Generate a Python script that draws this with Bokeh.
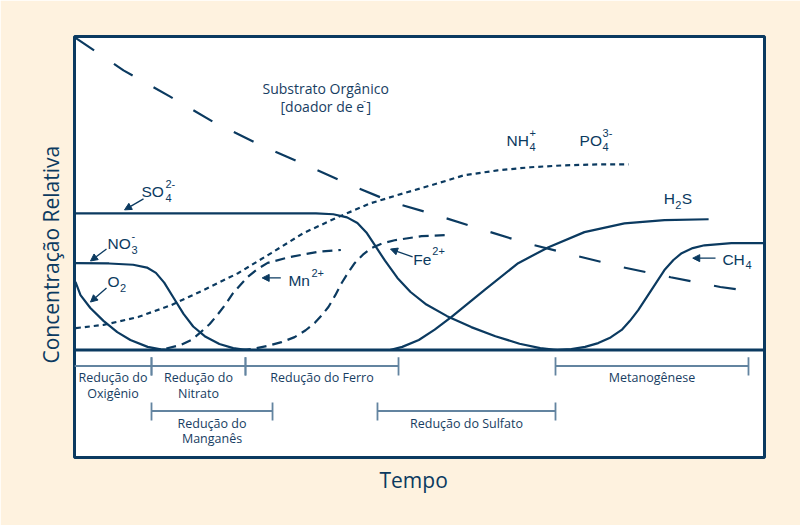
from bokeh.plotting import figure
from bokeh.models import Range1d, Span, Arrow, NormalHead, Title, ColumnDataSource
from bokeh.core.properties import value
from bokeh.embed import file_html
from bokeh.resources import INLINE

# ---------------- data (Tempo 0-100, Concentração relativa 0-100) ----------------
org_t = [0.2, 7.1, 13.8, 20.0, 26.4, 32.9, 39.4, 46.1, 51.6, 58.4, 65.4, 72.3, 79.4, 86.4, 93.6, 97.7]
org_c = [99.5, 89.2, 80.9, 72.9, 65.9, 59.6, 53.2, 47.1, 43.6, 38.9, 34.1, 30.3, 26.4, 23.2, 20.1, 18.8]

so4_t = [0.14, 35.0, 37.5, 39.5, 41.0, 42.3, 43.5, 45.0, 46.8, 48.7, 51.0, 54.0, 57.5, 61.0, 64.5, 67.5, 70.0]
so4_c = [43.6, 43.6, 43.3, 42.3, 40.5, 37.5, 33.5, 28.5, 23.0, 18.5, 14.5, 10.8, 7.3, 4.4, 2.0, 0.6, 0.0]

no3_t = [0.14, 5.0, 8.5, 10.5, 11.8, 13.0, 14.4, 15.8, 17.2, 19.0, 21.0, 23.0, 25.0]
no3_c = [27.7, 27.6, 27.2, 26.3, 24.6, 21.5, 16.5, 11.5, 7.5, 4.2, 1.9, 0.6, 0.0]

o2_t = [0.14, 0.87, 2.3, 4.2, 6.2, 8.1, 10.6, 12.5, 13.9]
o2_c = [21.7, 17.5, 13.4, 9.3, 5.7, 3.2, 1.0, 0.2, 0.0]

nh4_t = [0.2, 4.2, 9.2, 14.0, 18.7, 23.7, 28.5, 33.2, 38.2, 42.9, 47.7, 52.7, 56.4, 61.3, 66.1, 70.9, 75.8, 80.3]
nh4_c = [7.0, 8.0, 10.5, 14.3, 19.1, 24.5, 30.9, 37.3, 42.4, 46.8, 50.0, 53.2, 55.7, 57.3, 58.3, 58.9, 59.2, 59.2]

mn_t = [11.0, 13.0, 15.4, 17.0, 18.3, 19.6, 20.7, 21.9, 23.0, 24.1, 25.1, 26.5, 28.0, 31.3, 35.2, 38.6]
mn_c = [0.0, 0.3, 1.6, 3.3, 5.7, 8.3, 11.2, 14.6, 18.2, 20.9, 23.3, 25.8, 27.8, 29.7, 31.3, 31.9]

fe_t = [24.1, 26.0, 28.0, 30.0, 31.9, 33.5, 34.8, 35.8, 36.8, 37.8, 38.7, 39.6, 40.6, 41.8, 43.0, 44.6, 46.4, 50.3, 54.5]
fe_c = [0.0, 0.4, 1.3, 2.5, 4.1, 6.3, 8.6, 11.0, 13.7, 17.5, 21.3, 24.5, 27.7, 30.4, 32.5, 34.0, 35.0, 36.3, 36.7]

h2s_t = [45.7, 47.5, 49.9, 52.2, 54.6, 59.4, 64.3, 68.7, 73.9, 79.7, 85.5, 91.9]
h2s_c = [0.0, 1.0, 3.2, 6.5, 10.5, 19.1, 27.7, 32.8, 37.6, 40.4, 41.4, 41.7]

ch4_t = [69.4, 72.0, 74.0, 75.9, 77.7, 79.3, 80.5, 81.7, 83.6, 85.5, 86.8, 88.0, 89.6, 91.3, 95.2, 100.0]
ch4_c = [0.0, 0.3, 1.0, 2.2, 4.0, 6.4, 9.3, 12.7, 19.1, 25.5, 28.7, 30.9, 32.5, 33.4, 34.1, 34.1]

# process phases along time axis
phase_l1 = ["Redução do", "Redução do", "Redução do Ferro", "Metanogênese", "Redução do", "Redução do Sulfato"]
phase_l2 = ["Oxigênio", "Nitrato", "", "", "Manganês", ""]
phase_start = [0.0, 11.16, 24.78, 69.71, 11.16, 43.91]
phase_end = [11.16, 24.78, 46.96, 97.68, 28.70, 69.71]
phase_row = [1, 1, 1, 1, 2, 2]

NAVY = "#0b3a60"
TXT = "#173d62"
GREY = "#6384a0"
CREAM = "#fef2df"
SH = -6  # baseline correction in px

p = figure(width=800, height=525, x_range=Range1d(0, 100), y_range=Range1d(-34.29, 100),
           output_backend="svg", toolbar_location=None,
           x_axis_location=None, y_axis_location=None,
           min_border_left=74, min_border_right=36, min_border_top=36, min_border_bottom=68)
p.grid.visible = False
p.background_fill_color = "white"
p.border_fill_color = CREAM
p.outline_line_color = NAVY
p.outline_line_width = 3

# curves
p.line(org_t, org_c, line_color=NAVY, line_width=2.2, line_dash="22 24")
p.line(so4_t, so4_c, line_color=NAVY, line_width=2.2)
p.line(no3_t, no3_c, line_color=NAVY, line_width=2.2)
p.line(o2_t, o2_c, line_color=NAVY, line_width=2.2)
p.line(nh4_t, nh4_c, line_color=NAVY, line_width=2.2, line_dash="5 4")
p.line(mn_t, mn_c, line_color=NAVY, line_width=2.2, line_dash="10 6")
p.line(fe_t, fe_c, line_color=NAVY, line_width=2.2, line_dash="10 6")
p.line(h2s_t, h2s_c, line_color=NAVY, line_width=2.2)
p.line(ch4_t, ch4_c, line_color=NAVY, line_width=2.2)

# baseline
p.add_layout(Span(location=0, dimension="width", line_color=NAVY, line_width=3))

# phase brackets
row_y = {1: -5.10, 2: -19.46}
tick_h = 2.75
seg_x0, seg_x1, seg_y = [], [], []
tk_x, tk_y0, tk_y1 = [], [], []
t1_x, t1_y, t1_txt = [], [], []
for l1, l2, s, e, r in zip(phase_l1, phase_l2, phase_start, phase_end, phase_row):
    yy = row_y[r]
    seg_x0.append(s); seg_x1.append(e); seg_y.append(yy)
    for xx in (s, e):
        if xx > 0:
            tk_x.append(xx); tk_y0.append(yy + tick_h); tk_y1.append(yy - tick_h - 0.3)
    mid = (s + e) / 2
    t1_x.append(mid); t1_y.append(yy - 3.83 if r == 1 else yy - 4.0); t1_txt.append(l1)
    if l2:
        t1_x.append(mid); t1_y.append(yy - 8.93 if r == 1 else yy - 8.8); t1_txt.append(l2)
p.segment(x0=seg_x0, y0=seg_y, x1=seg_x1, y1=seg_y, line_color=GREY, line_width=1.8)
p.segment(x0=tk_x, y0=tk_y0, x1=tk_x, y1=tk_y1, line_color=GREY, line_width=1.8)
p.text(x=t1_x, y=t1_y, text=t1_txt, text_font=value("Open Sans"), text_font_size="12.5px",
       text_color=TXT, text_align="center", text_baseline="middle")

# organic substrate label
OS = value("Open Sans")
p.text(x=[36.4], y=[81.3], text=["Substrato Orgânico"], y_offset=[SH - 1], text_font=OS,
       text_font_size="14px", text_color=TXT, text_align="center", text_baseline="alphabetic")
p.text(x=[29.86], y=[75.6], text=["[doador de e"], y_offset=[SH], text_font=OS,
       text_font_size="14px", text_color=TXT, text_align="left", text_baseline="alphabetic")
p.text(x=[29.86], y=[75.6], text=["-"], x_offset=[82.5], y_offset=[SH - 6], text_font=OS,
       text_font_size="9px", text_color=TXT, text_align="left", text_baseline="alphabetic")
p.text(x=[29.86], y=[75.6], text=["]"], x_offset=[86], y_offset=[SH], text_font=OS,
       text_font_size="14px", text_color=TXT, text_align="left", text_baseline="alphabetic")

# chemical species labels
ch_base = ["SO", "NO", "O", "Mn", "Fe", "NH", "PO", "H", "CH"]
ch_sub = ["4", "3", "2", "", "", "4", "4", "2", "4"]
ch_sup = ["2-", "-", "", "2+", "2+", "+", "3-", "", ""]
ch_x = [9.71, 4.78, 4.78, 31.0, 49.1, 62.6, 73.2, 85.4, 93.9]
ch_y = [48.5, 31.9, 19.8, 20.1, 27.1, 64.8, 64.8, 46.3, 27.1]
ch_dx = [24, 24, 12.5, 23, 19, 23, 23, 11.5, 23]
n = len(ch_x)
FONT = value("Liberation Sans")
p.text(x=ch_x, y=ch_y, text=ch_base, y_offset=[SH] * n, text_font=FONT, text_font_size="15.5px",
       text_color=NAVY, text_align="left", text_baseline="alphabetic")
p.text(x=ch_x, y=ch_y, text=ch_sub, x_offset=ch_dx, y_offset=[SH + 6] * n, text_font=FONT,
       text_font_size="11px", text_color=NAVY, text_align="left", text_baseline="alphabetic")
p.text(x=ch_x, y=ch_y, text=ch_sup, x_offset=ch_dx, y_offset=[SH - 8] * n, text_font=FONT,
       text_font_size="11px", text_color=NAVY, text_align="left", text_baseline="alphabetic")
p.text(x=[85.4], y=[46.3], text=["S"], x_offset=[18], y_offset=[SH], text_font=FONT,
       text_font_size="15.5px", text_color=NAVY, text_align="left", text_baseline="alphabetic")

# arrows
arr = ColumnDataSource(dict(
    x0=[10.0, 4.64, 4.64, 29.9, 49.0, 92.9],
    y0=[48.2, 32.2, 19.8, 23.0, 29.7, 29.3],
    x1=[7.25, 2.32, 2.32, 27.2, 45.8, 89.6],
    y1=[44.7, 28.4, 15.3, 23.0, 32.2, 29.3],
))
p.add_layout(Arrow(end=NormalHead(size=7, fill_color=NAVY, line_color=NAVY, line_width=1),
                   x_start="x0", y_start="y0", x_end="x1", y_end="y1", source=arr,
                   line_color=NAVY, line_width=1.3))

# axis titles
p.add_layout(Title(text="Tempo", align="left", offset=305, standoff=12, text_font="Open Sans",
                   text_font_size="21px", text_font_style="normal", text_color=NAVY), "below")
p.add_layout(Title(text="Concentração Relativa", align="left", offset=94, standoff=19,
                   text_font="Open Sans", text_font_size="21px", text_font_style="normal",
                   text_color=NAVY), "left")

html = file_html(p, INLINE)
html = html.replace("<body>", '<body style="background-color:%s;">' % CREAM, 1)
open("out.html", "w").write(html)
